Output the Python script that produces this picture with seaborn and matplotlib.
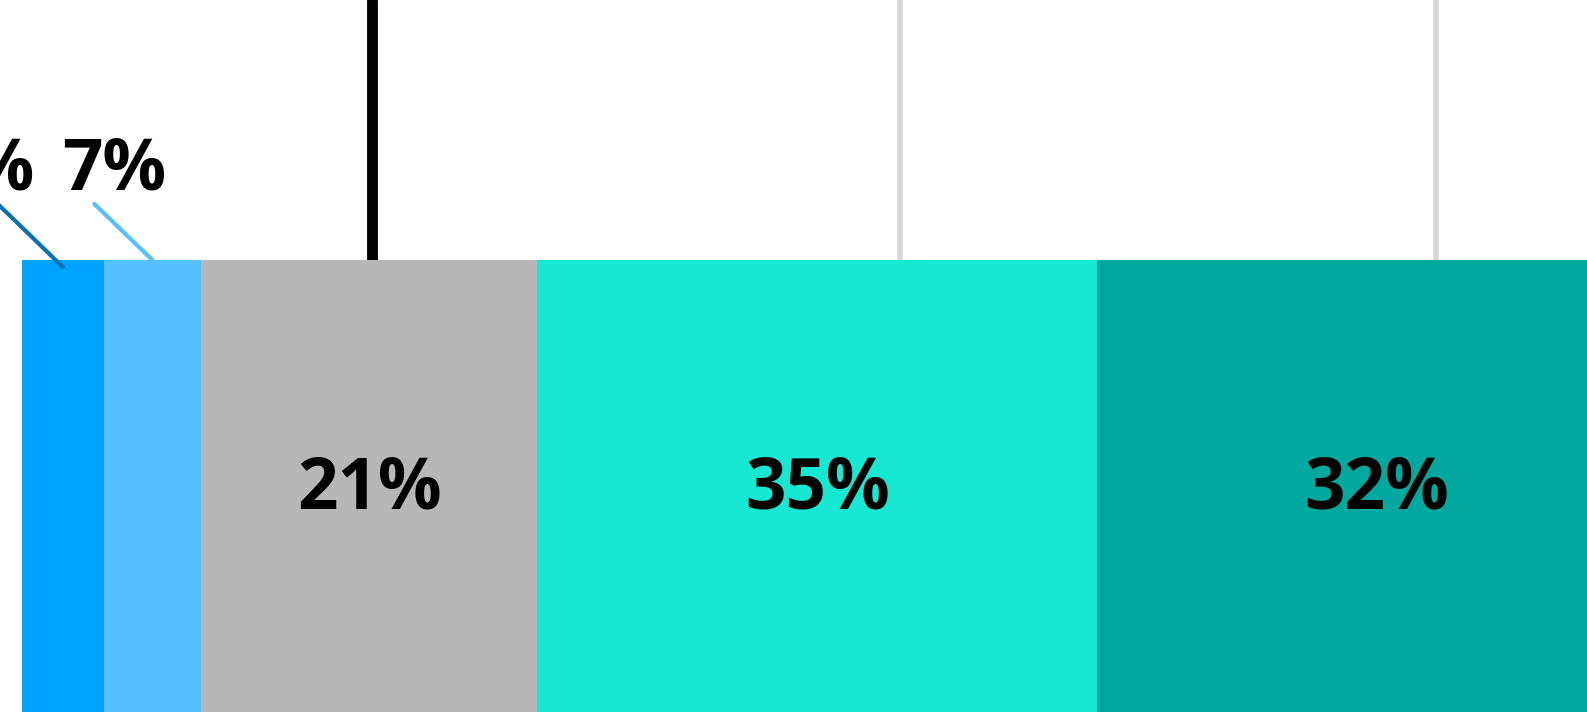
import numpy as np
import matplotlib.pyplot as plt
import seaborn as sns
from matplotlib.transforms import offset_copy

# segment shares (bar widths) and the printed labels
shares = [5.1, 6.1, 21.0, 35.0, 34.9]
labels = ["5%", "7%", "21%", "35%", "32%"]
colors = ["#00a2ff", "#57c0ff", "#b7b7b7", "#17e8d2", "#00a89e"]
leader_colors = ["#0a72b4", "#57c0ff"]
grid_x = [21.9, 54.9, 88.4]
row = ["Anteil"]

sns.set_style("white")
plt.rcParams["font.family"] = ["Open Sans", "DejaVu Sans"]

fig = plt.figure(figsize=(15.87, 7.12), dpi=100)
ax = fig.add_axes([0, 0, 1, 1])

ends = np.cumsum(shares)
starts = ends - np.array(shares)

# stacked bar: draw cumulative bars from longest to shortest
for end, c in reversed(list(zip(ends, colors))):
    sns.barplot(x=[end], y=row, orient="h", color=c, saturation=1,
                width=1, linewidth=0, ax=ax)

# reference line + gridlines behind the bar
for i, gx in enumerate(grid_x):
    ax.axvline(gx, color="black" if i == 0 else "#d6d6d6",
               lw=7.8 if i == 0 else 4.0, zorder=0)

px = 0.72  # pixels -> points at dpi 100
top = -0.5
fs = 51

# small segments: label above with leader line
small_dx = [-80, -38]
line_off = [(-66, 64), (-58, 56)]
line_drop = [7, 0]
for i in range(2):
    mid = (starts[i] + ends[i]) / 2
    tr = offset_copy(ax.transData, fig=fig, y=-line_drop[i], units="dots")
    ax.annotate("", xy=(mid, top), xycoords=tr,
                xytext=(line_off[i][0] * px, line_off[i][1] * px),
                textcoords="offset points",
                arrowprops=dict(arrowstyle="-", color=leader_colors[i],
                                lw=3.0, shrinkA=0, shrinkB=0))
    ax.annotate(labels[i], xy=(mid, top), xytext=(small_dx[i] * px, 71 * px),
                textcoords="offset points", ha="center", va="baseline",
                fontsize=fs, fontweight="bold", color="black",
                annotation_clip=False)

# large segments: label inside the bar
for i in range(2, len(shares)):
    mid = (starts[i] + ends[i]) / 2
    ax.annotate(labels[i], xy=(mid, top), xytext=(0, -248 * px),
                textcoords="offset points", ha="center", va="baseline",
                fontsize=fs, fontweight="bold", color="black")

ax.set_xlim(-1.375, 97.81)
ax.set_ylim(0.45, -1.0465)
ax.axis("off")

fig.savefig("out.png", dpi=100)
